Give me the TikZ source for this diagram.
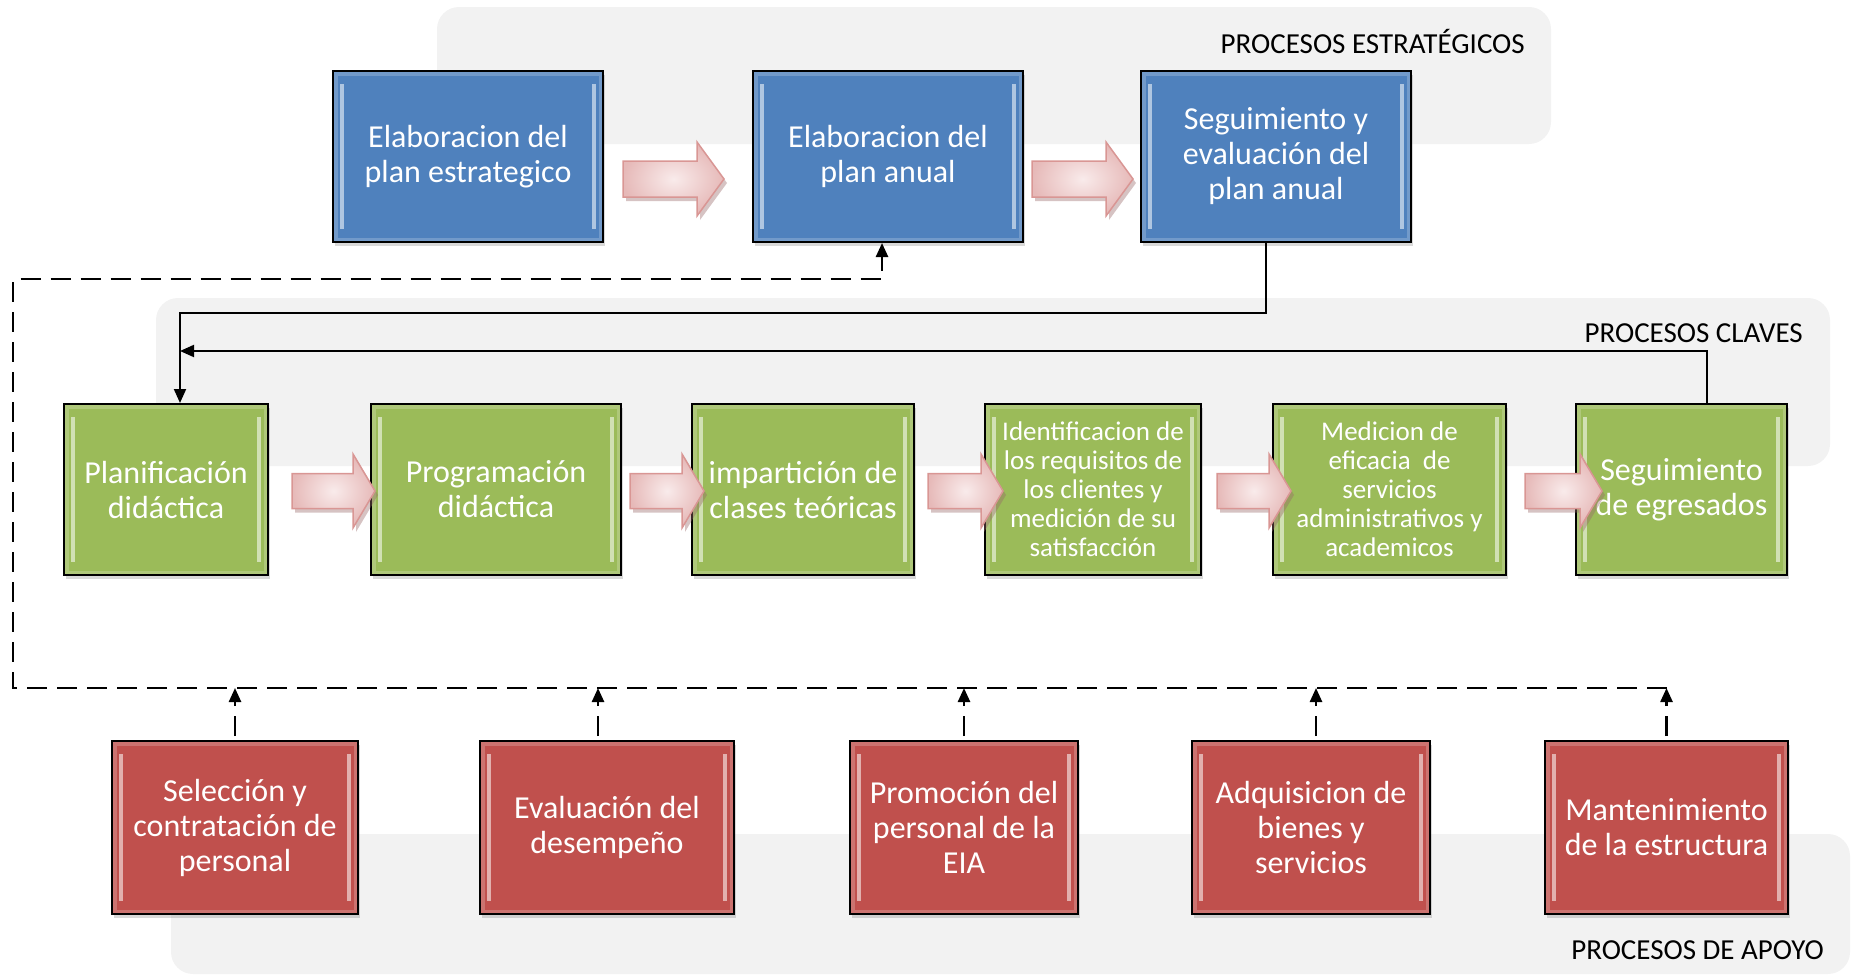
\documentclass[tikz,border=0pt]{standalone}
\usepackage{fontspec}
\setmainfont{Carlito}
\usetikzlibrary{arrows.meta,shadows}
\definecolor{estrablue}{HTML}{4F81BD}
\definecolor{clavegreen}{HTML}{9BBB59}
\definecolor{apoyored}{HTML}{C0504D}
\definecolor{bandgray}{HTML}{F2F2F2}
\definecolor{pinklight}{HTML}{F9EBEB}
\definecolor{pinkdark}{HTML}{E6B9B8}
\definecolor{pinkedge}{HTML}{D99694}
\tikzset{
	band/.style={fill=bandgray, draw=none, rounded corners=22pt},
	bandlabel/.style={anchor=east, inner sep=0pt, text=black, font=\fontsize{29}{34}\selectfont},
	procbox/.style={draw=black, line width=2pt, text=white, align=center, inner sep=1pt,
		font=\fontsize{32}{35}\selectfont,
		drop shadow={shadow xshift=2pt, shadow yshift=-4pt, opacity=0.3},
		path picture={
			\draw[white, opacity=0.2, line width=9pt] (path picture bounding box.south west) rectangle (path picture bounding box.north east);
			\draw[white, opacity=0.55, line width=3.5pt] ([xshift=9pt,yshift=-13pt]path picture bounding box.north west) -- ([xshift=9pt,yshift=13pt]path picture bounding box.south west);
			\draw[white, opacity=0.55, line width=3.5pt] ([xshift=-9pt,yshift=-13pt]path picture bounding box.north east) -- ([xshift=-9pt,yshift=13pt]path picture bounding box.south east);
		}},
	stratbox/.style={procbox, fill=estrablue, minimum width=270pt, minimum height=171pt},
	keybox/.style={procbox, fill=clavegreen, minimum height=171pt},
	supbox/.style={procbox, fill=apoyored, minimum height=173pt},
	smalltext/.style={font=\fontsize{27}{29}\selectfont},
	pinkarrow/.style={draw=pinkedge, line width=1.5pt, inner color=pinklight, outer color=pinkdark,
		drop shadow={shadow xshift=3pt, shadow yshift=-4pt, opacity=0.4, fill=pinkedge!70!black}},
	flowline/.style={draw=black, line width=2pt, -{Triangle[length=14pt,width=12pt]}},
	dashflow/.style={flowline, dash pattern=on 20pt off 10pt, line width=2.5pt}
}
% block arrow: (x start : x end : y : shaft half height : head length)
\def\blockarrow(#1:#2:#3:#4:#5){\draw[pinkarrow] (#1,#3-#4) -- (#2-#5,#3-#4) -- (#2-#5,#3-37) -- (#2,#3) -- (#2-#5,#3+37) -- (#2-#5,#3+#4) -- (#1,#3+#4) -- cycle;}

\begin{document}
\begin{tikzpicture}[x=1pt, y=-1pt]
	%%%%% START %%%%%
	\useasboundingbox (0,0) rectangle (1854,977);
	
	\draw[band] (437,7) rectangle (1551,144);
	\draw[band] (156,298) rectangle (1830,466);
	\draw[band] (171,834) rectangle (1850,974);
	
	\node[bandlabel] (labestra) at (1525,41) {PROCESOS ESTRATÉGICOS};
	\node[bandlabel] (labclave) at (1803,333) {PROCESOS CLAVES};
	\node[bandlabel] (labapoyo) at (1824,950) {PROCESOS DE APOYO};
	
	%% estrategicos
	\node[stratbox] (B1) at (468,156.5) {Elaboracion del\\plan estrategico};
	\node[stratbox] (B2) at (888,156.5) {Elaboracion del\\plan anual};
	\node[stratbox] (B3) at (1276,156.5) {Seguimiento y\\evaluación del\\plan anual};
	
	%% claves
	\node[keybox, minimum width=204pt] (G1) at (166,489.5) {Planificación\\didáctica};
	\node[keybox, minimum width=250pt] (G2) at (496,489.5) {Programación\\didáctica};
	\node[keybox, minimum width=222pt] (G3) at (803,489.5) {impartición de\\clases teóricas};
	\node[keybox, smalltext, minimum width=216pt] (G4) at (1093,489.5) {Identificacion de\\los requisitos de\\los clientes y\\medición de su\\satisfacción};
	\node[keybox, smalltext, minimum width=233pt] (G5) at (1389.5,489.5) {Medicion de\\eficacia~ de\\servicios\\administrativos y\\academicos};
	\node[keybox, minimum width=211pt] (G6) at (1681.5,489.5) {Seguimiento\\de egresados};
	
	%% apoyo
	\node[supbox, minimum width=246pt] (R1) at (235,827.5) {Selección y\\contratación de\\personal};
	\node[supbox, minimum width=254pt] (R2) at (607,827.5) {Evaluación del\\desempeño};
	\node[supbox, minimum width=228pt] (R3) at (964,827.5) {Promoción del\\personal de la\\EIA};
	\node[supbox, minimum width=238pt] (R4) at (1311,827.5) {Adquisicion de\\bienes y\\servicios};
	\node[supbox, minimum width=243pt] (R5) at (1666.5,827.5) {Mantenimiento\\de la estructura};
	
	%% block arrows
	\blockarrow(623:724:179:18:27)
	\blockarrow(1032:1133:179:18:27)
	\blockarrow(292:375:491:17.5:22)
	\blockarrow(630:704:491:17.5:22)
	\blockarrow(928:1003:491:17.5:22)
	\blockarrow(1217:1291:491:17.5:22)
	\blockarrow(1525:1602:491:17.5:22)
	
	%% connectors
	\draw[flowline] ([xshift=-10pt]B3.south) -- ++(0,70) -| ([xshift=14pt]G1.north);
	\draw[flowline] ([xshift=25pt]G6.north) |- ([xshift=14pt,yshift=52pt]G1.north);
	
	\draw[dashflow] ([yshift=4pt]R1.north) -- ([yshift=52pt]R1.north);
	\draw[dashflow] ([xshift=-9pt,yshift=4pt]R2.north) -- ([xshift=-9pt,yshift=52pt]R2.north);
	\draw[dashflow] ([yshift=4pt]R3.north) -- ([yshift=52pt]R3.north);
	\draw[dashflow] ([xshift=5pt,yshift=4pt]R4.north) -- ([xshift=5pt,yshift=52pt]R4.north);
	\draw[dashflow] ([yshift=4pt]R5.north) -- ([yshift=52pt]R5.north);
	
	\coordinate (dashL) at (13,279);
	\draw[dashflow] ([yshift=52pt]R5.north) -| (dashL) -| ([xshift=-6pt]B2.south);
	%%%%% END %%%%%
\end{tikzpicture}
\end{document}
